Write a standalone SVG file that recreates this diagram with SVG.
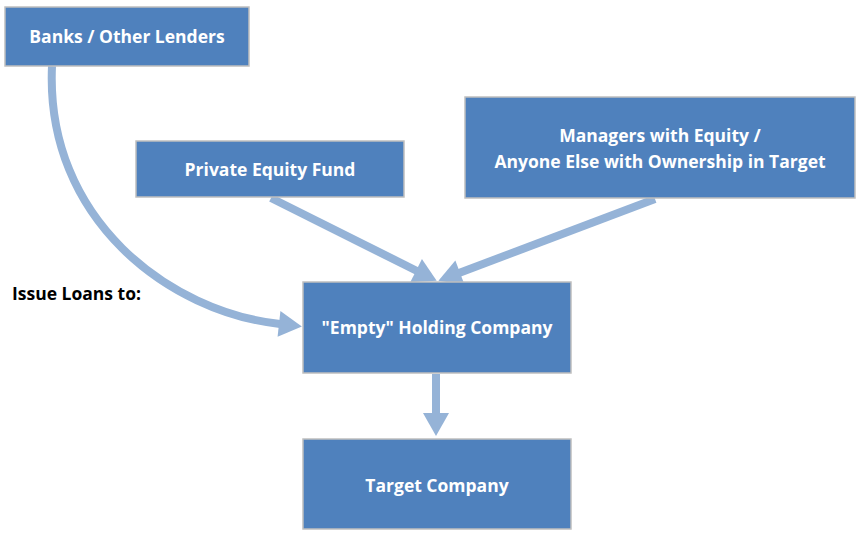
<svg xmlns="http://www.w3.org/2000/svg" width="859" height="534" viewBox="0 0 859 534">
<style>
.box{fill:#4F81BD;stroke:#BFBFBF;stroke-width:1.5}
.lbl{font-family:"Open Sans","Liberation Sans",sans-serif;font-weight:bold;font-size:17.5px;fill:#fff;text-anchor:middle}
.conn{stroke:#95B3D7;stroke-width:8;fill:none}
</style>
<defs>
<marker id="ah" markerUnits="userSpaceOnUse" markerWidth="24" markerHeight="26" refX="1" refY="13" orient="auto" overflow="visible">
<path d="M0,0 L23,13 L0,26 Z" fill="#95B3D7"/>
</marker>
</defs>
<rect width="859" height="534" fill="#fff"/>
<g id="connectors">
<path class="conn" d="M52,66 C45,220 170,312 280,324" marker-end="url(#ah)" />
<line class="conn" x1="271" y1="198" x2="417" y2="271" marker-end="url(#ah)"/>
<line class="conn" x1="655" y1="199" x2="459" y2="273" marker-end="url(#ah)"/>
<line class="conn" x1="436" y1="374" x2="436" y2="414" marker-end="url(#ah)"/>
</g>
<g id="banks"><rect class="box" x="5" y="7" width="244" height="59"/><text class="lbl" x="127" y="43">Banks / Other Lenders</text></g>
<g id="pef"><rect class="box" x="136" y="141" width="268" height="56"/><text class="lbl" x="270" y="176">Private Equity Fund</text></g>
<g id="managers"><rect class="box" x="465" y="97" width="390" height="101"/><text class="lbl" x="660" y="142">Managers with Equity /</text><text class="lbl" x="660" y="168">Anyone Else with Ownership in Target</text></g>
<g id="holding"><rect class="box" x="303" y="282" width="268" height="91"/><text class="lbl" x="437" y="334">"Empty" Holding Company</text></g>
<g id="target"><rect class="box" x="303" y="439" width="268" height="90"/><text class="lbl" x="437" y="492">Target Company</text></g>
<text x="12" y="300" font-family="'Open Sans','Liberation Sans',sans-serif" font-weight="bold" font-size="17.5" fill="#000">Issue Loans to:</text>
</svg>
